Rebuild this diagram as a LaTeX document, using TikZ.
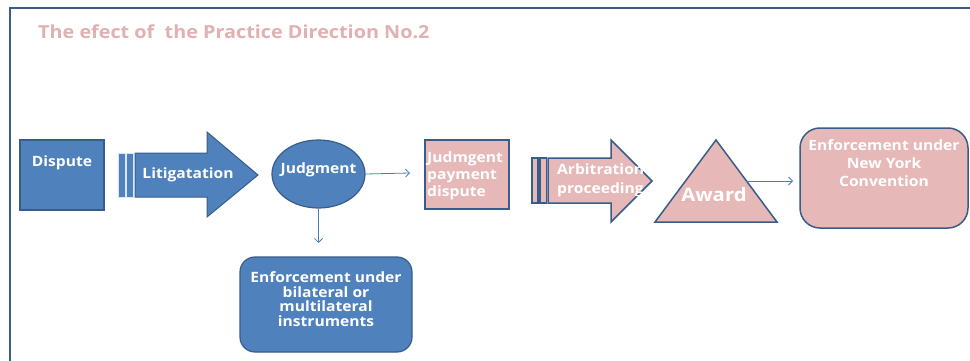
\documentclass[tikz,border=0pt]{standalone}
\usepackage{fontspec}
\setmainfont{Open Sans}[FakeStretch=1.1]
\usetikzlibrary{arrows.meta,shapes.geometric}
\definecolor{bfill}{HTML}{4F81BD}
\definecolor{bline}{HTML}{385D8A}
\definecolor{pfill}{HTML}{E6B9B8}
\definecolor{ttl}{HTML}{E2B0B0}
\definecolor{conn}{HTML}{4A7EBB}
\tikzset{
  bluebox/.style={draw=bline, fill=bfill, line width=1.2pt, inner sep=0pt},
  pinkbox/.style={draw=bline, fill=pfill, line width=1.5pt, inner sep=0pt},
  wtext/.style={text=white, font=\bfseries\fontsize{14.2}{15}\selectfont, inner sep=0pt, align=center},
  conarrow/.style={draw=conn, line width=0.8pt, -{Straight Barb[length=4pt,width=8pt]}},
}
\begin{document}
\begin{tikzpicture}[x=1pt,y=-1pt]
\useasboundingbox (0,0) rectangle (970,361);
\fill[white] (0,0) rectangle (970,361);
% frame
\draw[bline, line width=2pt] (10,361) -- (10,8) -- (970,8);
% title
\node[anchor=west, text=ttl, font=\bfseries\fontsize{18}{20}\selectfont, inner sep=0pt] (title) at (38,32) {The efect of\ \ the Practice Direction No.2};
% Dispute
\node[bluebox, minimum width=84pt, minimum height=70pt] (dispute) at (62,175) {};
\node[wtext] (disputet) at (62,163) {Dispute};
% Litigation arrow
\fill[bfill, draw=white!80!bfill, line width=0.8pt] (118,153) rectangle (125.5,197);
\fill[bfill, draw=white!80!bfill, line width=0.8pt] (126.5,153) rectangle (133.5,197);
\filldraw[fill=bfill, draw=bline, line width=1pt] (135,153) -- (207,153) -- (207,132) -- (258,175) -- (207,217) -- (207,197) -- (135,197) -- cycle;
\node[wtext] (litig) at (188,175) {Litigatation};
% Judgment ellipse
\node[ellipse, bluebox, minimum width=93pt, minimum height=68pt] (judg) at (318.5,174) {};
\node[wtext] (judgt) at (318.5,170) {Judgment};
% Enforcement blue box
\node[bluebox, rounded corners=15pt, minimum width=172pt, minimum height=95pt] (enfb) at (326,304.5) {};
\node[wtext, font=\bfseries\fontsize{14.2}{14.7}\selectfont] (enfbt) at (326,299) {Enforcement under\\bilateral or\\multilateral\\instruments};
% Judgment payment dispute box
\node[pinkbox, minimum width=84pt, minimum height=69pt] (jpd) at (467,174.5) {};
\node[wtext, align=left, anchor=west, font=\bfseries\fontsize{14.2}{17}\selectfont] (jpdt) at (427,175.5) {Judmgent\\payment\\dispute};
% Arbitration arrow
\filldraw[fill=pfill, draw=bline, line width=1.2pt] (532,158) rectangle (538,203);
\filldraw[fill=pfill, draw=bline, line width=1.2pt] (540,158) rectangle (546.5,203);
\filldraw[fill=pfill, draw=bline, line width=1.5pt] (548,158) -- (611,158) -- (611,140) -- (652,181) -- (611,222) -- (611,203) -- (548,203) -- cycle;
\node[wtext, align=left, anchor=west, font=\bfseries\fontsize{14.2}{19}\selectfont] (arbt) at (557,180.5) {Arbitration\\proceeding};
% Award triangle
\filldraw[fill=pfill, draw=bline, line width=1.5pt] (716,140) coordinate (atop) -- (777,222) coordinate (aright) -- (655,222) coordinate (aleft) -- cycle;
\coordinate (awardE) at (746,181);
\node[wtext, font=\bfseries\fontsize{18.5}{20}\selectfont] (awardt) at (714,195) {Award};
% NY box
\node[pinkbox, rounded corners=20pt, minimum width=168pt, minimum height=100pt] (ny) at (884,178) {};
\node[wtext, font=\bfseries\fontsize{14.2}{18}\selectfont] (nyt) at (884,163.5) {Enforcement under\\New York\\Convention};
% connectors
\coordinate (jpdW) at (410,173);
\draw[conarrow] (judg.east) -- (jpdW);
\coordinate (enfbN) at (318.5,243);
\draw[conarrow] (judg.south) -- (enfbN);
\coordinate (nyW) at (793,181);
\draw[conarrow] (awardE) -- (nyW);
\end{tikzpicture}
\end{document}
